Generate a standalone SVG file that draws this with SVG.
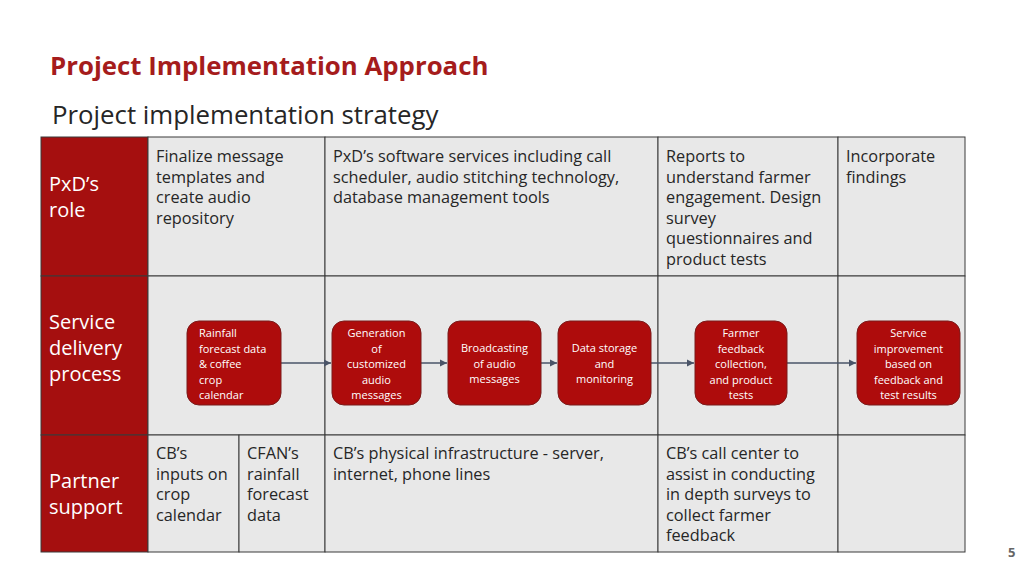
<svg xmlns="http://www.w3.org/2000/svg" width="1024" height="576" viewBox="0 0 1024 576">
<style>
text{font-family:"Open Sans","Noto Sans",sans-serif}
.cell{fill:#e8e8e8;stroke:#3a3a3a;stroke-width:1}
.hdr{fill:#a50f0f;stroke:#3a3a3a;stroke-width:1}
.t{font-size:16.3px;fill:#262626}
.h{font-size:20px;fill:#fff}
.box{fill:#ae0c0c;stroke:#7a1b1b;stroke-width:1}
.b{font-size:11px;fill:#fff;text-anchor:middle}
.bl{font-size:11px;fill:#fff}
.c{stroke:#4a5468;stroke-width:1.5;fill:none;marker-end:url(#ar)}
</style>
<defs><marker id="ar" markerWidth="8" markerHeight="8" refX="7" refY="4" orient="auto" markerUnits="userSpaceOnUse"><path d="M0,0.5 L7,4 L0,7.5 z" fill="#4a5468"/></marker></defs>
<rect width="1024" height="576" fill="#fff"/>
<text x="50" y="75" style="font-size:25.8px;font-weight:bold;fill:#a51c1c">Project Implementation Approach</text>
<text x="52" y="124" style="font-size:25.8px;fill:#262626">Project implementation strategy</text>
<g id="table">
<rect class="hdr" x="41" y="137" width="107" height="139"/>
<rect class="hdr" x="41" y="276" width="107" height="159"/>
<rect class="hdr" x="41" y="435" width="107" height="117"/>
<rect class="cell" x="148" y="137" width="177" height="139"/>
<rect class="cell" x="325" y="137" width="333" height="139"/>
<rect class="cell" x="658" y="137" width="180" height="139"/>
<rect class="cell" x="838" y="137" width="127" height="139"/>
<rect class="cell" x="148" y="276" width="177" height="159"/>
<rect class="cell" x="325" y="276" width="333" height="159"/>
<rect class="cell" x="658" y="276" width="180" height="159"/>
<rect class="cell" x="838" y="276" width="127" height="159"/>
<rect class="cell" x="148" y="435" width="91" height="117"/>
<rect class="cell" x="239" y="435" width="86" height="117"/>
<rect class="cell" x="325" y="435" width="333" height="117"/>
<rect class="cell" x="658" y="435" width="180" height="117"/>
<rect class="cell" x="838" y="435" width="127" height="117"/>
<text class="h" x="49" y="191">PxD’s</text><text class="h" x="49" y="217">role</text>
<text class="h" x="49" y="329">Service</text><text class="h" x="49" y="355">delivery</text><text class="h" x="49" y="381">process</text>
<text class="h" x="49" y="488">Partner</text><text class="h" x="49" y="514">support</text>
<text class="t" x="156" y="162"><tspan x="156">Finalize message</tspan><tspan x="156" dy="20.5">templates and</tspan><tspan x="156" dy="20.5">create audio</tspan><tspan x="156" dy="20.5">repository</tspan></text>
<text class="t" x="333" y="162"><tspan x="333">PxD’s software services including call</tspan><tspan x="333" dy="20.5">scheduler, audio stitching technology,</tspan><tspan x="333" dy="20.5">database management tools</tspan></text>
<text class="t" x="666" y="162"><tspan x="666">Reports to</tspan><tspan x="666" dy="20.5">understand farmer</tspan><tspan x="666" dy="20.5">engagement. Design</tspan><tspan x="666" dy="20.5">survey</tspan><tspan x="666" dy="20.5">questionnaires and</tspan><tspan x="666" dy="20.5">product tests</tspan></text>
<text class="t" x="846" y="162"><tspan x="846">Incorporate</tspan><tspan x="846" dy="20.5">findings</tspan></text>
<text class="t" x="156" y="459"><tspan x="156">CB’s</tspan><tspan x="156" dy="20.5">inputs on</tspan><tspan x="156" dy="20.5">crop</tspan><tspan x="156" dy="20.5">calendar</tspan></text>
<text class="t" x="247" y="459"><tspan x="247">CFAN’s</tspan><tspan x="247" dy="20.5">rainfall</tspan><tspan x="247" dy="20.5">forecast</tspan><tspan x="247" dy="20.5">data</tspan></text>
<text class="t" x="333" y="459"><tspan x="333">CB’s physical infrastructure - server,</tspan><tspan x="333" dy="20.5">internet, phone lines</tspan></text>
<text class="t" x="666" y="459"><tspan x="666">CB’s call center to</tspan><tspan x="666" dy="20.5">assist in conducting</tspan><tspan x="666" dy="20.5">in depth surveys to</tspan><tspan x="666" dy="20.5">collect farmer</tspan><tspan x="666" dy="20.5">feedback</tspan></text>
</g>
<g id="connectors">
<path class="c" d="M281,363 H331"/>
<path class="c" d="M421,363 H447"/>
<path class="c" d="M541,363 H557"/>
<path class="c" d="M651,363 H694"/>
<path class="c" d="M787,363 H856"/>
</g>
<g id="n1"><rect class="box" x="187" y="321" width="94" height="84" rx="12"/>
<text class="bl" y="337"><tspan x="199">Rainfall</tspan><tspan x="199" dy="15.5">forecast data</tspan><tspan x="199" dy="15.5">&amp; coffee</tspan><tspan x="199" dy="15.5">crop</tspan><tspan x="199" dy="15.5">calendar</tspan></text></g>
<g id="n2"><rect class="box" x="332" y="321" width="89" height="84" rx="12"/>
<text class="b" y="337"><tspan x="376.5">Generation</tspan><tspan x="376.5" dy="15.5">of</tspan><tspan x="376.5" dy="15.5">customized</tspan><tspan x="376.5" dy="15.5">audio</tspan><tspan x="376.5" dy="15.5">messages</tspan></text></g>
<g id="n3"><rect class="box" x="448" y="321" width="93" height="84" rx="12"/>
<text class="b" y="352"><tspan x="494.5">Broadcasting</tspan><tspan x="494.5" dy="15.5">of audio</tspan><tspan x="494.5" dy="15.5">messages</tspan></text></g>
<g id="n4"><rect class="box" x="558" y="321" width="93" height="84" rx="12"/>
<text class="b" y="352"><tspan x="604.5">Data storage</tspan><tspan x="604.5" dy="15.5">and</tspan><tspan x="604.5" dy="15.5">monitoring</tspan></text></g>
<g id="n5"><rect class="box" x="695" y="321" width="92" height="84" rx="12"/>
<text class="b" y="337"><tspan x="741">Farmer</tspan><tspan x="741" dy="15.5">feedback</tspan><tspan x="741" dy="15.5">collection,</tspan><tspan x="741" dy="15.5">and product</tspan><tspan x="741" dy="15.5">tests</tspan></text></g>
<g id="n6"><rect class="box" x="857" y="321" width="103" height="84" rx="12"/>
<text class="b" y="337"><tspan x="908.5">Service</tspan><tspan x="908.5" dy="15.5">improvement</tspan><tspan x="908.5" dy="15.5">based on</tspan><tspan x="908.5" dy="15.5">feedback and</tspan><tspan x="908.5" dy="15.5">test results</tspan></text></g>
<text x="1008" y="557" style="font-size:13px;font-weight:bold;fill:#666">5</text>
</svg>
